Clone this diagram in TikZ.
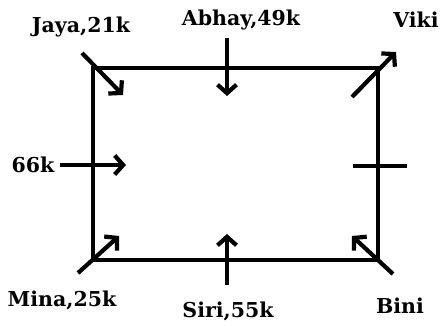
\documentclass[tikz,border=0pt]{standalone}
\usepackage{fontspec}
\setmainfont{DejaVu Serif}
\usetikzlibrary{arrows.meta}
\begin{document}
\begin{tikzpicture}[x=1pt,y=-1pt,
  lbl/.style={font=\bfseries\fontsize{20.5}{24}\selectfont, inner sep=0pt},
  edge/.style={line width=4.2pt},
  arr/.style={line width=4.2pt, -{Straight Barb[length=8.5pt,width=19pt]}}]
\useasboundingbox (0,0) rectangle (441,326);
% rectangle corners
\coordinate (tl) at (93,68);
\coordinate (tr) at (378,68);
\coordinate (br) at (378,260);
\coordinate (bl) at (93,260);
\draw[edge, line cap=rect] (tl) -- (tr) -- (br) -- (bl) -- cycle;
% labels
\node[lbl] (jaya) at (81,27) {Jaya,21k};
\node[lbl] (abhay) at (241,20) {Abhay,49k};
\node[lbl] (viki) at (416,20) {Viki};
\node[lbl] (k66) at (33,165) {66k};
\node[lbl] (mina) at (62,300) {Mina,25k};
\node[lbl] (siri) at (228,311) {Siri,55k};
\node[lbl] (bini) at (400,306) {Bini};
% arrow end points
\coordinate (jA) at (82,53);  \coordinate (jB) at (123,95);
\coordinate (aA) at (227,38); \coordinate (aB) at (227,96);
\coordinate (vA) at (352,97); \coordinate (vB) at (396,52);
\coordinate (kA) at (60,165); \coordinate (kB) at (126,165);
\coordinate (mA) at (78,273); \coordinate (mB) at (119,236);
\coordinate (sA) at (227,285); \coordinate (sB) at (227,234);
\coordinate (bA) at (393,274); \coordinate (bB) at (352,236);
\coordinate (tA) at (353,166); \coordinate (tB) at (407,166);
\draw[arr] (jA) -- (jB);
\draw[arr] (aA) -- (aB);
\draw[arr] (vA) -- (vB);
\draw[arr] (kA) -- (kB);
\draw[arr] (mA) -- (mB);
\draw[arr] (sA) -- (sB);
\draw[arr] (bA) -- (bB);
\draw[edge] (tA) -- (tB);
\end{tikzpicture}
\end{document}
